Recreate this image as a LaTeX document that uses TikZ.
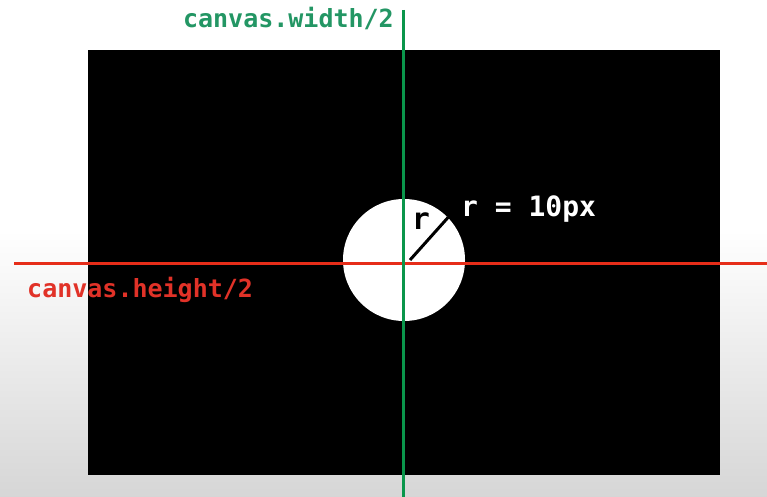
\documentclass[tikz,border=0pt]{standalone}
\usepackage{fontspec}
\setmonofont{DejaVu Sans Mono}
\usetikzlibrary{positioning}
\definecolor{axisgreen}{RGB}{10,150,75}
\definecolor{axisred}{RGB}{230,45,25}
\definecolor{greentext}{RGB}{35,150,100}
\definecolor{redtext}{RGB}{225,50,40}
\begin{document}
\begin{tikzpicture}[
  x=1pt, y=-1pt,
  code/.style={
    font=\ttfamily\bfseries\fontsize{#1}{#1}\selectfont,
    inner sep=0pt
  },
  axis/.style={line width=3pt, draw=#1},
  screen/.style={
    fill=black,
    inner sep=0pt,
    minimum width=632pt,
    minimum height=425pt
  },
  ball/.style={
    circle,
    fill=white,
    inner sep=0pt,
    minimum size=122pt
  }
]

\useasboundingbox (0,0) rectangle (767,497);
\fill[white] (0,0) rectangle (767,497);
\shade[top color=white, bottom color=black!16] (0,230) rectangle (767,497);

\node[screen] (canvas) at (404,262.5) {};
\node[ball] (dot) at (404,260) {};

% centre lines
\coordinate (hleft) at (14,263);
\coordinate (hright) at (767,263);
\coordinate (wtop) at (403,10);
\coordinate (wbot) at (403,497);
\draw[axis=axisred] (hleft) -- (hright);
\draw[axis=axisgreen] (wtop) -- (wbot);

% radius
\coordinate (rstart) at (410,260);
\draw[line width=3pt] (rstart) -- (dot.44);

\node[code=25, text=greentext, anchor=east] (widthlabel) at (394,19) {canvas.width/2};
\node[code=25, text=redtext, anchor=west] (heightlabel) at (27,290) {canvas.height/2};
\node[code=28, text=white, anchor=west] (radiuslabel) at (461,209) {r = 10px};
\node[code=30, text=black] (rlabel) at (421,221) {r};

\end{tikzpicture}
\end{document}
